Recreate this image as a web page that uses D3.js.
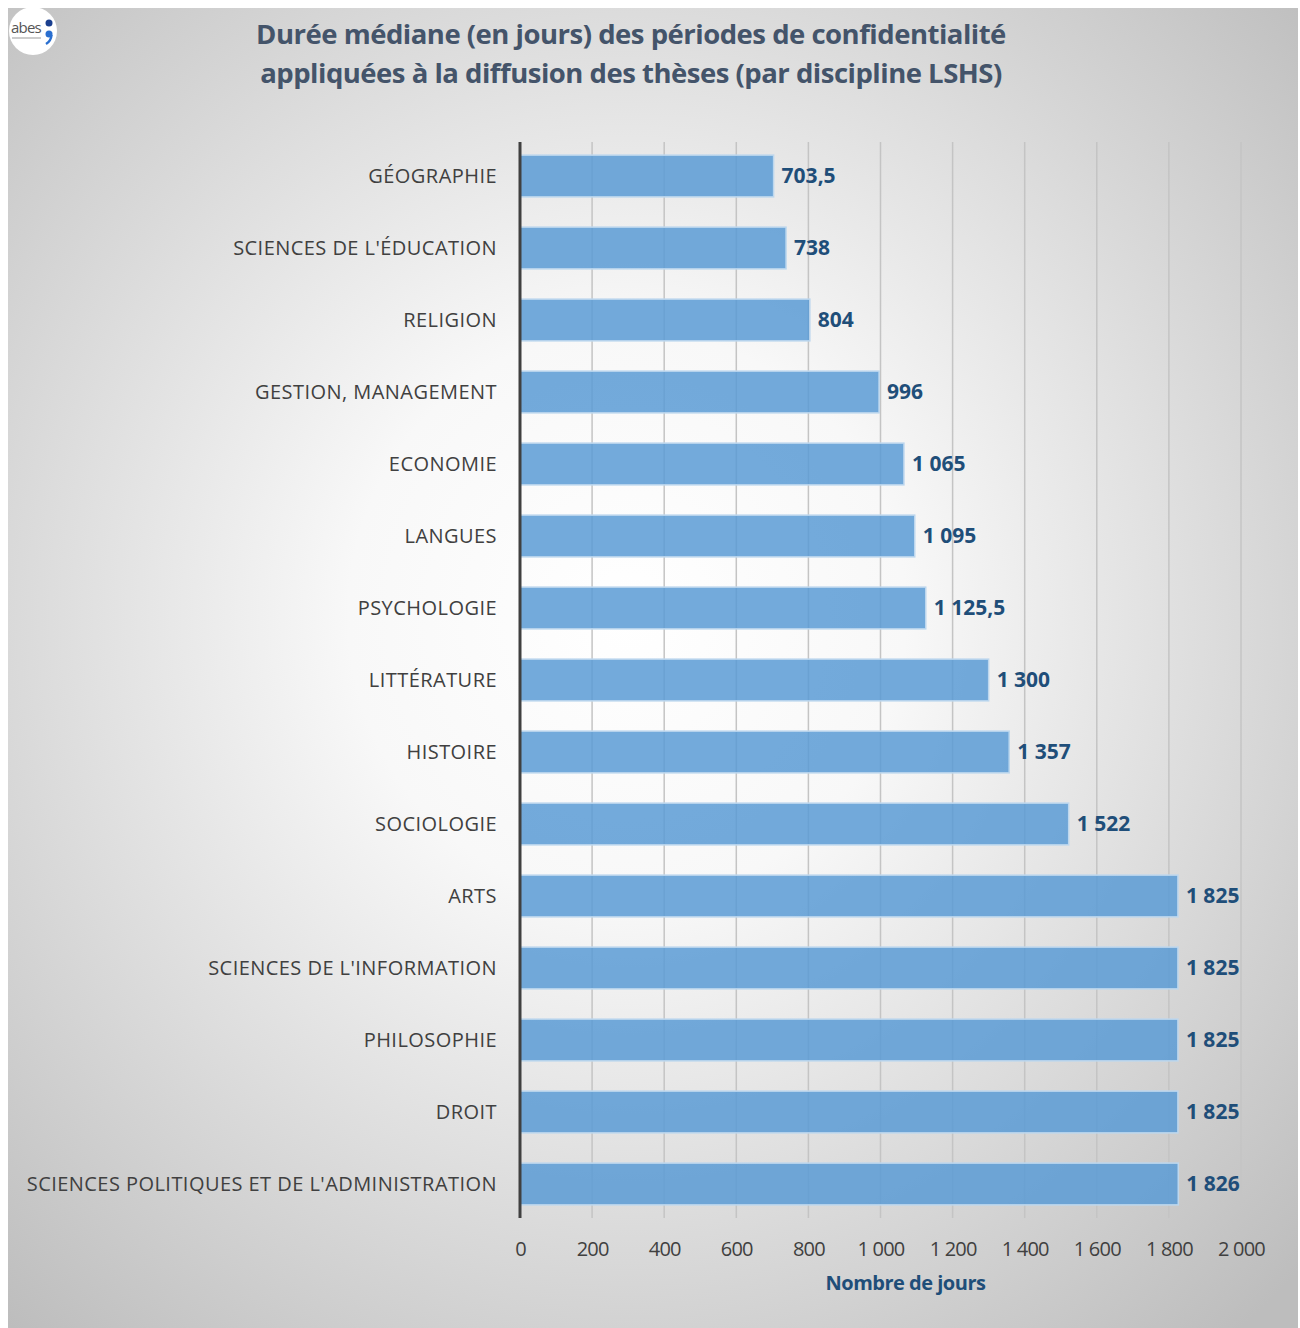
<!DOCTYPE html>
<html>
<head>
<meta charset="utf-8">
<script src="https://cdn.jsdelivr.net/npm/d3@7"></script>
<style>
  body { margin: 0; background: #fff; }
  svg { display: block; }
</style>
</head>
<body>
<script>
// disciplines, top to bottom
let disciplines = ['GÉOGRAPHIE', "SCIENCES DE L'ÉDUCATION", 'RELIGION', 'GESTION, MANAGEMENT', 'ECONOMIE',
    'LANGUES', 'PSYCHOLOGIE', 'LITTÉRATURE', 'HISTOIRE', 'SOCIOLOGIE', 'ARTS',
    "SCIENCES DE L'INFORMATION", 'PHILOSOPHIE', 'DROIT', "SCIENCES POLITIQUES ET DE L'ADMINISTRATION"];
let medianDays = [703.5, 738, 804, 996, 1065, 1095, 1125.5, 1300, 1357, 1522, 1825, 1825, 1825, 1825, 1826];
let xTicks = [0, 200, 400, 600, 800, 1000, 1200, 1400, 1600, 1800, 2000];
let titleLines = ['Durée médiane (en jours) des périodes de confidentialité',
    'appliquées à la diffusion des thèses (par discipline LSHS)'];
let xTitle = 'Nombre de jours';

let totalWidth = 1300;
let totalHeight = 1328;
let margins = { top: 140, right: 59, bottom: 108, left: 520 };

// french number formatting (1 000 / 703,5)
let fr = d3.formatLocale({ decimal: ',', thousands: '\u00a0', grouping: [3], currency: ['', ' €'] });
let fmt = fr.format(',');

let svg = d3.select('body').append('svg')
    .attr('width', totalWidth)
    .attr('height', totalHeight)
    .style('font-family', "'Open Sans', sans-serif");

//background gradient
let defs = svg.append('defs');
let grad = defs.append('radialGradient')
    .attr('id', 'bg')
    .attr('cx', '48%').attr('cy', '46%').attr('r', '72%');
grad.append('stop').attr('offset', '0%').attr('stop-color', '#ffffff');
grad.append('stop').attr('offset', '30%').attr('stop-color', '#f8f8f8');
grad.append('stop').attr('offset', '100%').attr('stop-color', '#bdbdbd');

svg.append('rect')
    .attr('x', 8).attr('y', 8)
    .attr('width', 1290).attr('height', totalHeight - 8)
    .attr('fill', 'url(#bg)');

//logo
let logo = svg.append('g').attr('transform', 'translate(33, 31)');
logo.append('circle').attr('r', 24).attr('fill', '#fff');
logo.append('text').attr('x', -22).attr('y', 2)
    .style('font-size', '15px').style('fill', '#555').style('letter-spacing', '-0.8px')
    .text('abes');
logo.append('circle').attr('cx', 16).attr('cy', -8).attr('r', 3.5).attr('fill', '#1a3f8f');
logo.append('circle').attr('cx', 16).attr('cy', 3).attr('r', 3.5).attr('fill', '#2a6fd0');
logo.append('path').attr('d', 'M18.5,4 Q18,10 13,13').attr('fill', 'none')
    .attr('stroke', '#2a6fd0').attr('stroke-width', 2.5);
logo.append('line').attr('x1', -21).attr('x2', 8).attr('y1', 7).attr('y2', 7)
    .attr('stroke', '#bbb').attr('stroke-width', 1.5);

//title
svg.append('g').selectAll('text')
    .data(titleLines)
    .enter()
    .append('text')
    .attr('x', 631)
    .attr('y', (d, i) => 44 + i * 39)
    .attr('text-anchor', 'middle')
    .style('font-size', '27.5px')
    .style('font-weight', 'bold')
    .style('fill', '#44546a')
    .style('letter-spacing', '-0.5px')
    .text(d => d);

let xScale = d3.scaleLinear()
    .domain([0, 2000])
    .range([margins.left, totalWidth - margins.right]);

let yScale = d3.scaleBand()
    .domain(disciplines)
    .range([margins.top, totalHeight - margins.bottom])
    .paddingInner(0.42)
    .paddingOuter(0.21);

let plotBottom = totalHeight - margins.bottom;

//gridlines
svg.append('g')
    .selectAll('line')
    .data(xTicks.slice(1))
    .enter()
    .append('line')
    .attr('x1', d => xScale(d)).attr('x2', d => xScale(d))
    .attr('y1', margins.top + 2).attr('y2', plotBottom - 2)
    .attr('stroke', '#c4c4c4')
    .attr('stroke-width', 1.5);

//bars
svg.append('g')
    .selectAll('rect')
    .data(medianDays)
    .enter()
    .append('rect')
    .attr('x', xScale(0))
    .attr('y', (d, i) => yScale(disciplines[i]))
    .attr('width', d => xScale(d) - xScale(0))
    .attr('height', yScale.bandwidth())
    .attr('fill', '#5b9bd5')
    .attr('fill-opacity', 0.85)
    .attr('stroke', '#bdd7ee')
    .attr('stroke-width', 1.5);

//value labels
svg.append('g')
    .selectAll('text')
    .data(medianDays)
    .enter()
    .append('text')
    .attr('x', d => xScale(d) + 8)
    .attr('y', (d, i) => yScale(disciplines[i]) + yScale.bandwidth() / 2)
    .attr('dy', '0.35em')
    .style('font-size', '21px')
    .style('font-weight', 'bold')
    .style('fill', '#1f4e79')
    .text(d => fmt(d));

//category labels
svg.append('g')
    .selectAll('text')
    .data(disciplines)
    .enter()
    .append('text')
    .attr('x', margins.left - 23)
    .attr('y', d => yScale(d) + yScale.bandwidth() / 2)
    .attr('dy', '0.35em')
    .attr('text-anchor', 'end')
    .style('font-size', '20px')
    .style('letter-spacing', '0.45px')
    .style('fill', '#404040')
    .text(d => d);

//x axis
let xAxis = d3.axisBottom(xScale)
    .tickValues(xTicks)
    .tickSize(0)
    .tickPadding(22)
    .tickFormat(d => fmt(d));

let x_axis = svg.append('g')
    .attr('transform', `translate(0, ${plotBottom})`)
    .call(xAxis);
x_axis.select('.domain').remove();
x_axis.selectAll('text')
    .style('font-size', '20px')
    .style('font-family', "'Open Sans', sans-serif")
    .style('fill', '#404040')
    .style('letter-spacing', '-0.8px');

//y axis line
svg.append('line')
    .attr('x1', xScale(0)).attr('x2', xScale(0))
    .attr('y1', margins.top + 2).attr('y2', plotBottom - 2)
    .attr('stroke', '#404040')
    .attr('stroke-width', 3);

svg.append('text')
    .attr('x', (xScale(0) + xScale(2000)) / 2 + 25)
    .attr('y', 1290)
    .attr('text-anchor', 'middle')
    .style('font-size', '20px')
    .style('font-weight', 'bold')
    .style('fill', '#1f4e79')
    .style('letter-spacing', '-0.5px')
    .text(xTitle);
</script>
</body>
</html>
